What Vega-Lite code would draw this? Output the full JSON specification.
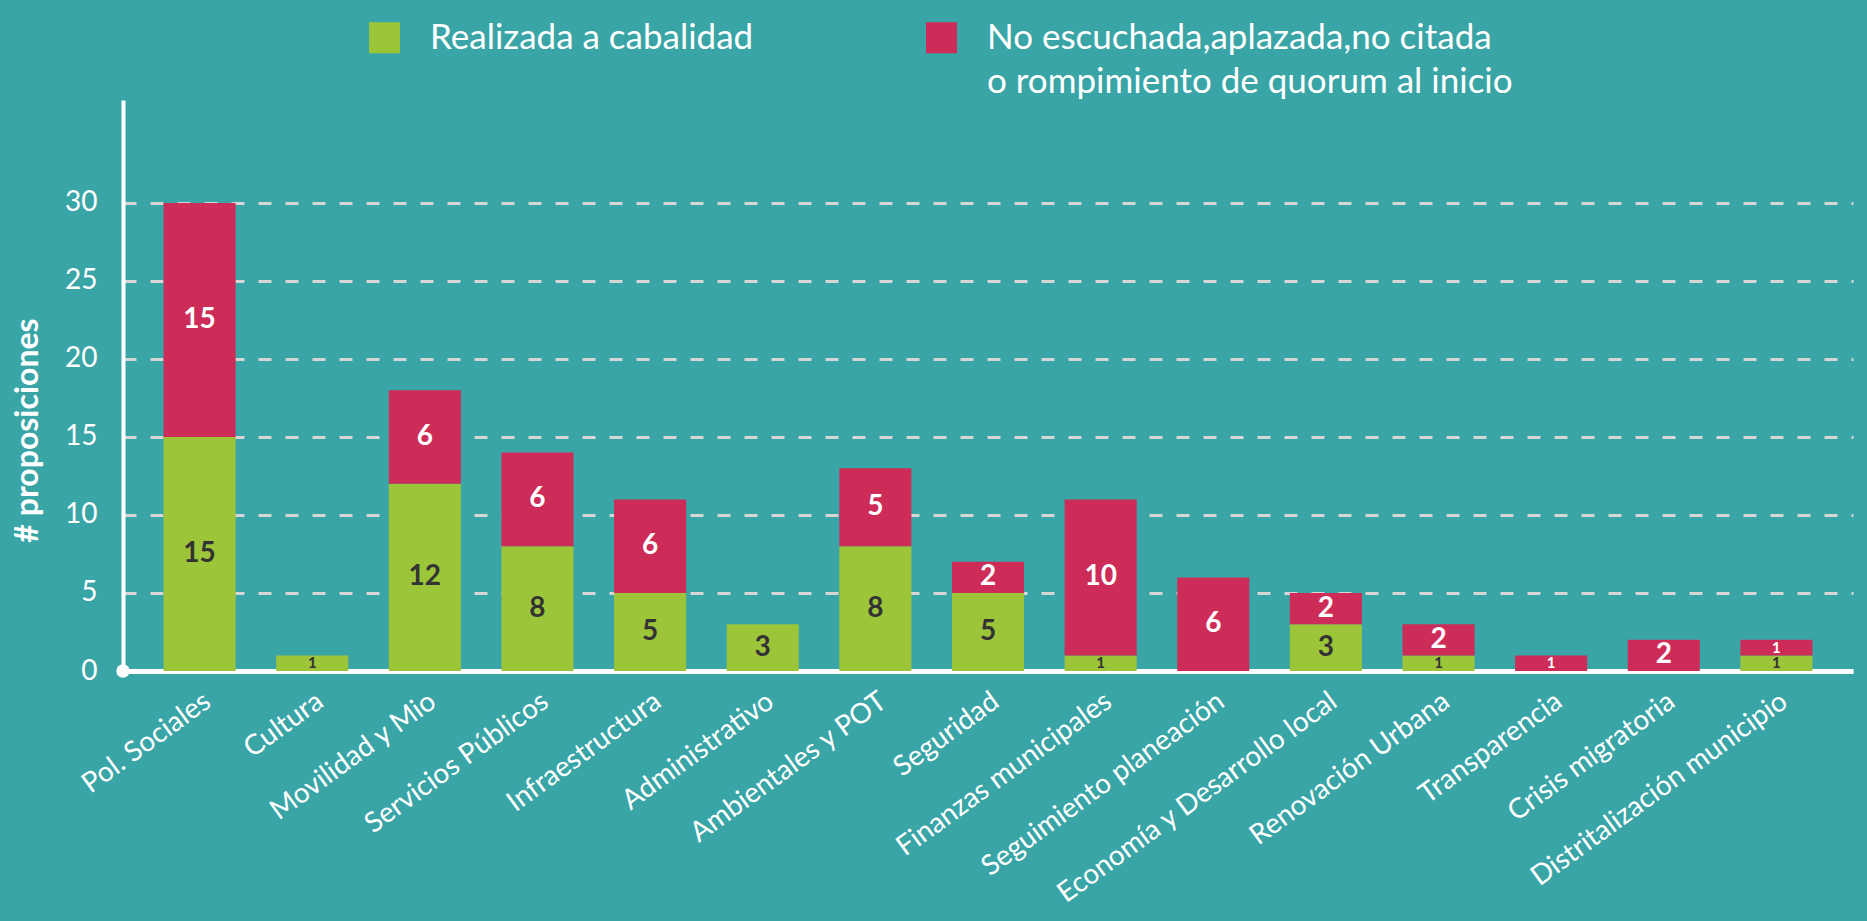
{
  "$schema": "https://vega.github.io/schema/vega-lite/v6.json",
  "autosize": "none",
  "width": 1730,
  "height": 571,
  "padding": {"left": 123, "top": 100, "right": 14, "bottom": 250},
  "background": "#3AA5A6",
  "data": {
    "values": [
      {"categoria": "Pol. Sociales", "estado": "Realizada a cabalidad", "valor": 15},
      {"categoria": "Pol. Sociales", "estado": "No escuchada,aplazada,no citada o rompimiento de quorum al inicio", "valor": 15},
      {"categoria": "Cultura", "estado": "Realizada a cabalidad", "valor": 1},
      {"categoria": "Movilidad y Mio", "estado": "Realizada a cabalidad", "valor": 12},
      {"categoria": "Movilidad y Mio", "estado": "No escuchada,aplazada,no citada o rompimiento de quorum al inicio", "valor": 6},
      {"categoria": "Servicios Públicos", "estado": "Realizada a cabalidad", "valor": 8},
      {"categoria": "Servicios Públicos", "estado": "No escuchada,aplazada,no citada o rompimiento de quorum al inicio", "valor": 6},
      {"categoria": "Infraestructura", "estado": "Realizada a cabalidad", "valor": 5},
      {"categoria": "Infraestructura", "estado": "No escuchada,aplazada,no citada o rompimiento de quorum al inicio", "valor": 6},
      {"categoria": "Administrativo", "estado": "Realizada a cabalidad", "valor": 3},
      {"categoria": "Ambientales y POT", "estado": "Realizada a cabalidad", "valor": 8},
      {"categoria": "Ambientales y POT", "estado": "No escuchada,aplazada,no citada o rompimiento de quorum al inicio", "valor": 5},
      {"categoria": "Seguridad", "estado": "Realizada a cabalidad", "valor": 5},
      {"categoria": "Seguridad", "estado": "No escuchada,aplazada,no citada o rompimiento de quorum al inicio", "valor": 2},
      {"categoria": "Finanzas municipales", "estado": "Realizada a cabalidad", "valor": 1},
      {"categoria": "Finanzas municipales", "estado": "No escuchada,aplazada,no citada o rompimiento de quorum al inicio", "valor": 10},
      {"categoria": "Seguimiento planeación", "estado": "No escuchada,aplazada,no citada o rompimiento de quorum al inicio", "valor": 6},
      {"categoria": "Economía y Desarrollo local", "estado": "Realizada a cabalidad", "valor": 3},
      {"categoria": "Economía y Desarrollo local", "estado": "No escuchada,aplazada,no citada o rompimiento de quorum al inicio", "valor": 2},
      {"categoria": "Renovación Urbana", "estado": "Realizada a cabalidad", "valor": 1},
      {"categoria": "Renovación Urbana", "estado": "No escuchada,aplazada,no citada o rompimiento de quorum al inicio", "valor": 2},
      {"categoria": "Transparencia", "estado": "No escuchada,aplazada,no citada o rompimiento de quorum al inicio", "valor": 1},
      {"categoria": "Crisis migratoria", "estado": "No escuchada,aplazada,no citada o rompimiento de quorum al inicio", "valor": 2},
      {"categoria": "Distritalización municipio", "estado": "Realizada a cabalidad", "valor": 1},
      {"categoria": "Distritalización municipio", "estado": "No escuchada,aplazada,no citada o rompimiento de quorum al inicio", "valor": 1}
    ]
  },
  "layer": [
    {
      "layer": [
        {
          "mark": {"type": "bar"},
          "encoding": {
            "x": {
              "field": "categoria", "type": "nominal", "sort": null,
              "scale": {"paddingInner": 0.36, "paddingOuter": 0.36},
              "axis": {
                "title": null, "labelAngle": -36, "labelFontSize": 28, "labelFont": "Lato",
                "labelColor": "white", "labelPadding": 16, "ticks": false, "labelLimit": 600,
                "domainColor": "white", "domainWidth": 5
              }
            },
            "y": {
              "field": "valor", "type": "quantitative", "stack": "zero",
              "scale": {"domain": [0, 36.6], "nice": false},
              "axis": {
                "title": "# proposiciones", "values": [0, 5, 10, 15, 20, 25, 30],
                "titleFont": "Lato", "titleFontSize": 32, "titleFontWeight": "bold", "titleColor": "white",
                "titleX": -96, "titleY": 330, "titleAlign": "center", "titleBaseline": "middle",
                "labelFont": "Lato", "labelFontSize": 28, "labelColor": "white", "labelPadding": 26,
                "ticks": false, "domainColor": "white", "domainWidth": 4,
                "grid": true, "gridColor": "#D6D6D6", "gridWidth": 3, "gridDash": [13, 14]
              }
            },
            "color": {
              "field": "estado", "type": "nominal",
              "scale": {
                "domain": ["Realizada a cabalidad", "No escuchada,aplazada,no citada o rompimiento de quorum al inicio"],
                "range": ["#9DC53A", "#CD2C58"]
              },
              "legend": {
                "title": null, "orient": "none", "direction": "horizontal",
                "legendX": 244, "legendY": -80,
                "symbolType": "square", "symbolSize": 961, "symbolStrokeWidth": 0, "symbolOpacity": 1,
                "labelFont": "Lato", "labelFontSize": 35, "labelColor": "white", "labelOffset": 28,
                "labelLimit": 800, "columnPadding": 170,
                "labelExpr": "datum.value == 'Realizada a cabalidad' ? ['Realizada a cabalidad', ''] : ['No escuchada,aplazada,no citada', 'o rompimiento de quorum al inicio']"
              }
            },
            "order": {"field": "estado", "sort": "descending"}
          }
        },
        {
          "mark": {"type": "text", "font": "Lato", "fontWeight": "bold", "align": "center", "baseline": "middle"},
          "encoding": {
            "x": {"field": "categoria", "type": "nominal", "sort": null},
            "y": {"field": "valor", "type": "quantitative", "stack": "zero", "bandPosition": 0.5},
            "order": {"field": "estado", "sort": "descending"},
            "text": {"field": "valor", "type": "quantitative"},
            "color": {
              "condition": {"test": "datum.estado == 'Realizada a cabalidad'", "value": "#333333"},
              "value": "white"
            },
            "size": {
              "condition": {"test": "datum.valor <= 1", "value": 15},
              "value": 28
            }
          }
        }
      ]
    },
    {
      "data": {"values": [{"origen": 0}]},
      "mark": {"type": "point", "filled": true, "color": "white", "opacity": 1, "size": 180},
      "encoding": {
        "x": {"field": "origen", "type": "quantitative", "scale": {"domain": [0, 1]}, "axis": null},
        "y": {"field": "origen", "type": "quantitative"}
      }
    }
  ],
  "resolve": {"scale": {"x": "independent"}},
  "config": {
    "view": {"stroke": null},
    "style": {"guide-label": {"lineHeight": 44}}
  }
}
